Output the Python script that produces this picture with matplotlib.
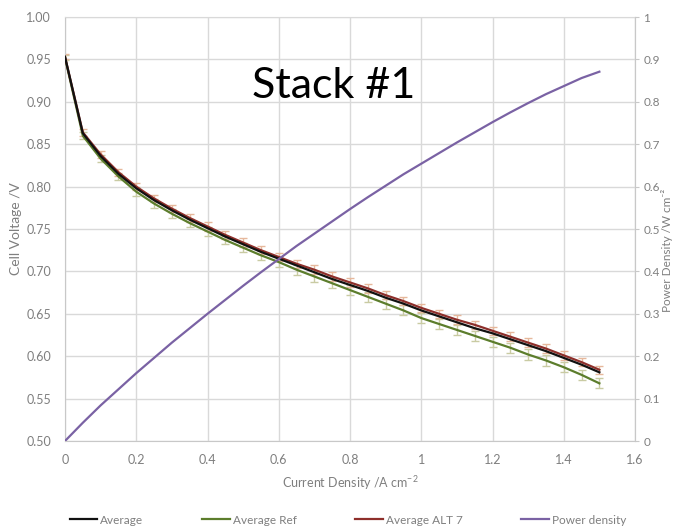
import matplotlib
matplotlib.use("Agg")
import matplotlib.pyplot as plt

plt.rcParams['font.family'] = ['Lato', 'DejaVu Sans']
plt.rcParams['mathtext.default'] = 'regular'

# current density points (A cm-2)
current = [0.00, 0.05, 0.10, 0.15, 0.20, 0.25, 0.30, 0.35, 0.40, 0.45,
           0.50, 0.55, 0.60, 0.65, 0.70, 0.75, 0.80, 0.85, 0.90, 0.95,
           1.00, 1.05, 1.10, 1.15, 1.20, 1.25, 1.30, 1.35, 1.40, 1.45, 1.50]

v_average = [0.953, 0.863, 0.836, 0.815, 0.798, 0.784, 0.772, 0.761, 0.751, 0.741,
             0.732, 0.723, 0.715, 0.707, 0.699, 0.691, 0.684, 0.677, 0.669, 0.662,
             0.654, 0.647, 0.640, 0.633, 0.627, 0.620, 0.613, 0.606, 0.598, 0.590, 0.581]

v_ref = [0.952, 0.860, 0.833, 0.812, 0.794, 0.780, 0.768, 0.757, 0.747, 0.737,
         0.728, 0.719, 0.711, 0.702, 0.694, 0.686, 0.678, 0.670, 0.662, 0.654,
         0.645, 0.638, 0.631, 0.624, 0.617, 0.610, 0.602, 0.595, 0.587, 0.578, 0.568]

v_alt7 = [0.953, 0.864, 0.838, 0.817, 0.800, 0.786, 0.774, 0.763, 0.753, 0.743,
          0.734, 0.725, 0.717, 0.709, 0.702, 0.694, 0.687, 0.680, 0.672, 0.665,
          0.657, 0.650, 0.643, 0.637, 0.630, 0.623, 0.616, 0.609, 0.601, 0.593, 0.584]

err_ref = [0.003, 0.004, 0.004, 0.004, 0.005, 0.005, 0.005, 0.005, 0.005, 0.005,
           0.005, 0.005, 0.006, 0.006, 0.006, 0.006, 0.006, 0.006, 0.006, 0.006,
           0.006, 0.006, 0.006, 0.006, 0.006, 0.006, 0.006, 0.006, 0.006, 0.006, 0.006]

err_alt7 = [0.003, 0.004, 0.004, 0.004, 0.004, 0.004, 0.004, 0.005, 0.005, 0.005,
            0.005, 0.005, 0.005, 0.005, 0.005, 0.005, 0.005, 0.005, 0.005, 0.005,
            0.005, 0.005, 0.005, 0.005, 0.005, 0.005, 0.005, 0.005, 0.005, 0.005, 0.005]

power = [0.000, 0.043, 0.084, 0.122, 0.160, 0.196, 0.232, 0.266, 0.300, 0.333,
         0.366, 0.398, 0.429, 0.460, 0.489, 0.518, 0.547, 0.575, 0.602, 0.629,
         0.654, 0.679, 0.704, 0.728, 0.752, 0.775, 0.797, 0.818, 0.837, 0.856, 0.871]

x_ticks = [0, 0.2, 0.4, 0.6, 0.8, 1.0, 1.2, 1.4, 1.6]
x_labels = ['0', '0.2', '0.4', '0.6', '0.8', '1', '1.2', '1.4', '1.6']
y_ticks = [0.50, 0.55, 0.60, 0.65, 0.70, 0.75, 0.80, 0.85, 0.90, 0.95, 1.00]
y_labels = ['0.50', '0.55', '0.60', '0.65', '0.70', '0.75', '0.80', '0.85', '0.90', '0.95', '1.00']
y2_ticks = [0, 0.1, 0.2, 0.3, 0.4, 0.5, 0.6, 0.7, 0.8, 0.9, 1.0]
y2_labels = ['0', '0.1', '0.2', '0.3', '0.4', '0.5', '0.6', '0.7', '0.8', '0.9', '1']

c_black = '#111111'
c_ref = '#5c7d2c'
c_alt = '#8e2f2b'
c_pow = '#7a62a4'
c_grid = '#d9d9d9'
c_text = '#7f7f7f'

fig = plt.figure(figsize=(6.76, 5.27), dpi=100)
ax = fig.add_axes([65 / 676, 86 / 527, 570 / 676, 424 / 527])

ax.errorbar(current, v_ref, yerr=err_ref, fmt='none', ecolor='#c9cba3',
            elinewidth=1, capsize=3, zorder=2)
ax.errorbar(current, v_alt7, yerr=err_alt7, fmt='none', ecolor='#e6b89c',
            elinewidth=1, capsize=3, zorder=2)
l_ref, = ax.plot(current, v_ref, color=c_ref, lw=1.6, zorder=3)
l_alt, = ax.plot(current, v_alt7, color=c_alt, lw=1.6, zorder=3)
l_avg, = ax.plot(current, v_average, color=c_black, lw=1.6, zorder=4)

ax.set_xlim(0, 1.6)
ax.set_ylim(0.5, 1.0)
ax.set_xticks(x_ticks)
ax.set_xticklabels(x_labels)
ax.set_yticks(y_ticks)
ax.set_yticklabels(y_labels)
ax.grid(True, color=c_grid, lw=1)
ax.set_axisbelow(True)
ax.tick_params(axis='both', length=0, labelsize=9, labelcolor=c_text)
ax.tick_params(axis='y', pad=10)
ax.tick_params(axis='x', pad=9)
for s in ax.spines.values():
    s.set_color(c_grid)
ax.spines['left'].set_color('#c8c8c8')
ax.spines['bottom'].set_color('#c8c8c8')
ax.set_xlabel('Current Density /A cm$^{-2}$', fontsize=9, color=c_text, labelpad=6)
ax.set_ylabel('Cell Voltage /V', fontsize=10, color=c_text, labelpad=3)

ax2 = ax.twinx()
l_pow, = ax2.plot(current, power, color=c_pow, lw=1.6, zorder=5)
ax2.set_ylim(0, 1.0)
ax2.set_yticks(y2_ticks)
ax2.set_yticklabels(y2_labels)
ax2.tick_params(axis='y', length=3, color='#c8c8c8', labelsize=8.5, labelcolor=c_text, pad=3)
for s in ax2.spines.values():
    s.set_visible(False)
ax2.spines['right'].set_visible(True)
ax2.spines['right'].set_color('#c8c8c8')
ax2.set_ylabel('Power Density /W cm\u207b\u00b2', fontsize=8.5, color=c_text)
ax2.yaxis.set_label_coords(1.046, 0.45)

fig.text(334 / 676, 1 - 98 / 527, 'Stack #1', fontsize=31, color='black',
         ha='center', va='baseline')

fig.legend([l_avg, l_ref, l_alt, l_pow],
           ['Average', 'Average Ref', 'Average ALT 7', 'Power density'],
           loc='center', bbox_to_anchor=(348 / 676, 1 - 520 / 527), ncol=4,
           frameon=False, fontsize=8.5, handlelength=2.3, handletextpad=0.25,
           columnspacing=5.0, labelcolor=c_text)

fig.savefig('out.png', dpi=100)
